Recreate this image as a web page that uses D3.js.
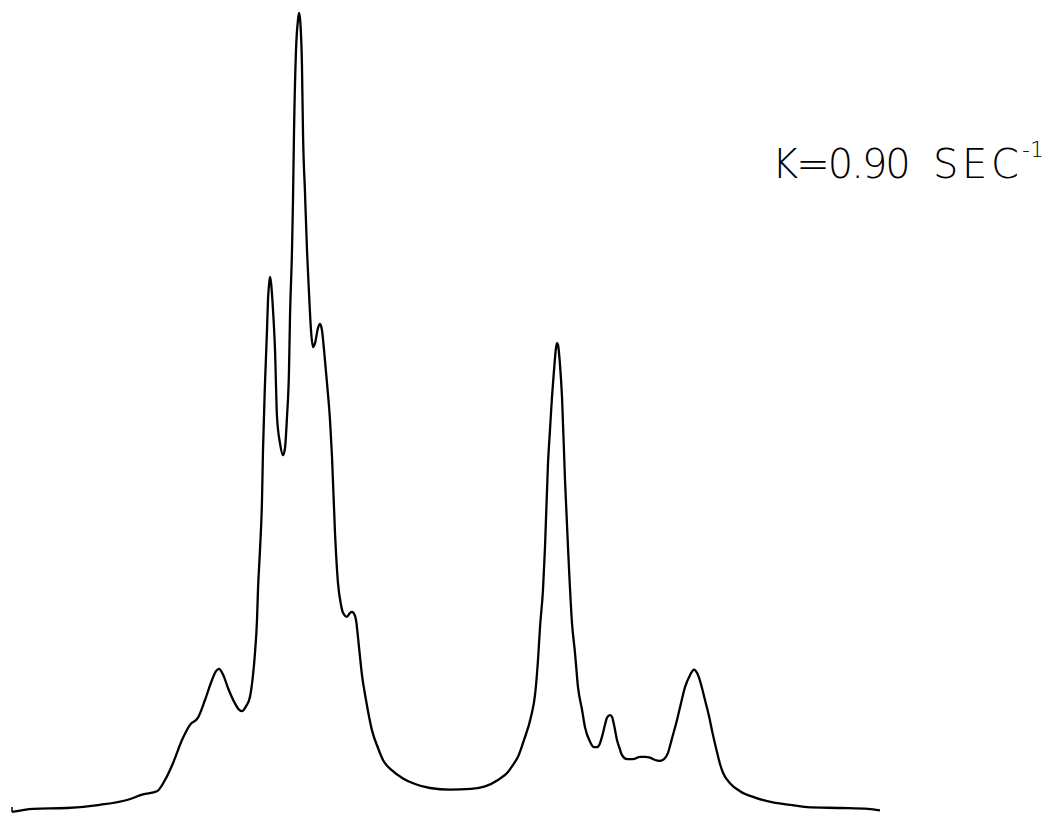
<!DOCTYPE html>
<html>
<head>
<meta charset="utf-8">
<script src="https://cdn.jsdelivr.net/npm/d3@7"></script>
<style>
  html, body { margin: 0; padding: 0; background: #fff; }
  svg { display: block; }
</style>
</head>
<body>
<script>
// Spectrum trace: channel position vs. relative intensity (%)
const channel = [0,21,55,88,115,131,145,153,161,170,178,186,193,200,204,207,211,216,222,227,230,234,238,241,243,245,246,248,250,251,253,255,256,257,258,259,261,263,265,268,271,273,275,277,278,280,281,282,284,286,287,288,290,291,293,295,297,299,301,303,306,308,310,312,315,318,320,323,326,329,331,335,338,340,342,344,347,350,354,360,366,371,380,391,403,418,438,459,473,486,496,501,506,512,519,523,526,528,531,533,536,538,540,542,544,545,546,548,550,553,556,560,563,566,570,573,578,582,585,588,590,593,595,598,600,602,605,608,610,615,621,628,633,638,643,648,652,656,660,665,669,673,678,682,685,687,690,693,697,700,704,708,711,718,728,743,761,778,795,828,856,868];
const intensity = [0,0.4,0.5,0.9,1.5,2.2,2.6,4.0,6.1,9.0,10.9,11.8,14.0,16.5,17.6,17.9,17.2,15.5,13.8,12.8,12.6,13.2,14.4,17.1,19.9,24.0,27.8,32.8,39.0,45.2,53.6,60.2,64.0,65.9,66.9,66.2,62.8,57.8,49.4,46.1,44.6,45.5,49.4,55.2,61.9,70.2,76.5,84.9,95.2,99.0,99.9,99.2,93.1,84.9,77.4,70.2,64.9,60.2,58.1,58.6,60.5,61.0,60.2,57.8,53.6,49.0,44.4,34.9,28.6,25.9,24.9,24.4,24.9,25.0,24.8,24.0,20.6,17.1,14.0,10.2,8.0,6.5,5.2,4.2,3.5,3.0,2.8,2.9,3.2,4.0,5.0,5.9,6.9,9.0,11.9,14.6,19.0,23.1,27.8,33.1,43.6,47.8,51.9,55.2,58.0,58.6,58.4,55.9,51.9,41.5,33.1,23.6,19.9,15.6,12.8,10.6,8.8,8.1,8.1,8.6,9.4,10.9,11.8,12.1,11.9,10.9,9.0,7.8,7.1,6.6,6.6,6.9,6.9,6.8,6.5,6.4,6.6,7.4,9.2,11.5,13.6,15.6,17.1,17.8,17.4,16.8,15.5,14.0,12.0,10.2,8.0,6.0,4.9,3.6,2.6,1.8,1.2,0.9,0.6,0.5,0.4,0.2];
const labelMain = "K=0.90";
const labelUnit = "SEC";
const labelExp = "-1";

const W = 1054, H = 815;
const svg = d3.select("body").append("svg").attr("width", W).attr("height", H);

const x = d3.scaleLinear().domain([0, 868]).range([12, 880]);
const y = d3.scaleLinear().domain([0, 100]).range([812, 12]);

const data = channel.map((c, i) => ({c, v: intensity[i]}));

svg.append("path")
  .datum(data)
  .attr("fill", "none")
  .attr("stroke", "#000")
  .attr("stroke-width", 2.3)
  .attr("stroke-linejoin", "round")
  .attr("d", d3.line().x(d => x(d.c)).y(d => y(d.v)).curve(d3.curveMonotoneX));

// small start tick at baseline
svg.append("line")
  .attr("x1", x(0)).attr("x2", x(0))
  .attr("y1", y(0)).attr("y2", y(0) - 5)
  .attr("stroke", "#000").attr("stroke-width", 1.5);

const font = "'DejaVu Sans', sans-serif";
svg.append("text")
  .attr("x", 772).attr("y", 178)
  .attr("font-family", font).attr("font-weight", 200)
  .attr("font-size", 40).attr("letter-spacing", -2)
  .attr("fill", "#000")
  .text(labelMain);
const unit = svg.append("text")
  .attr("x", 933).attr("y", 178)
  .attr("font-family", font).attr("font-weight", 200)
  .attr("font-size", 40)
  .attr("fill", "#000");
labelUnit.split("").forEach((ch, i) => {
  unit.append("tspan").attr("x", 933 + i * 29).text(ch);
});
const ub = unit.node().getBBox();
svg.append("text")
  .attr("x", ub.x + ub.width + 3).attr("y", 157)
  .attr("font-family", font).attr("font-weight", 200)
  .attr("font-size", 22)
  .attr("fill", "#000")
  .text(labelExp);
</script>
</body>
</html>
